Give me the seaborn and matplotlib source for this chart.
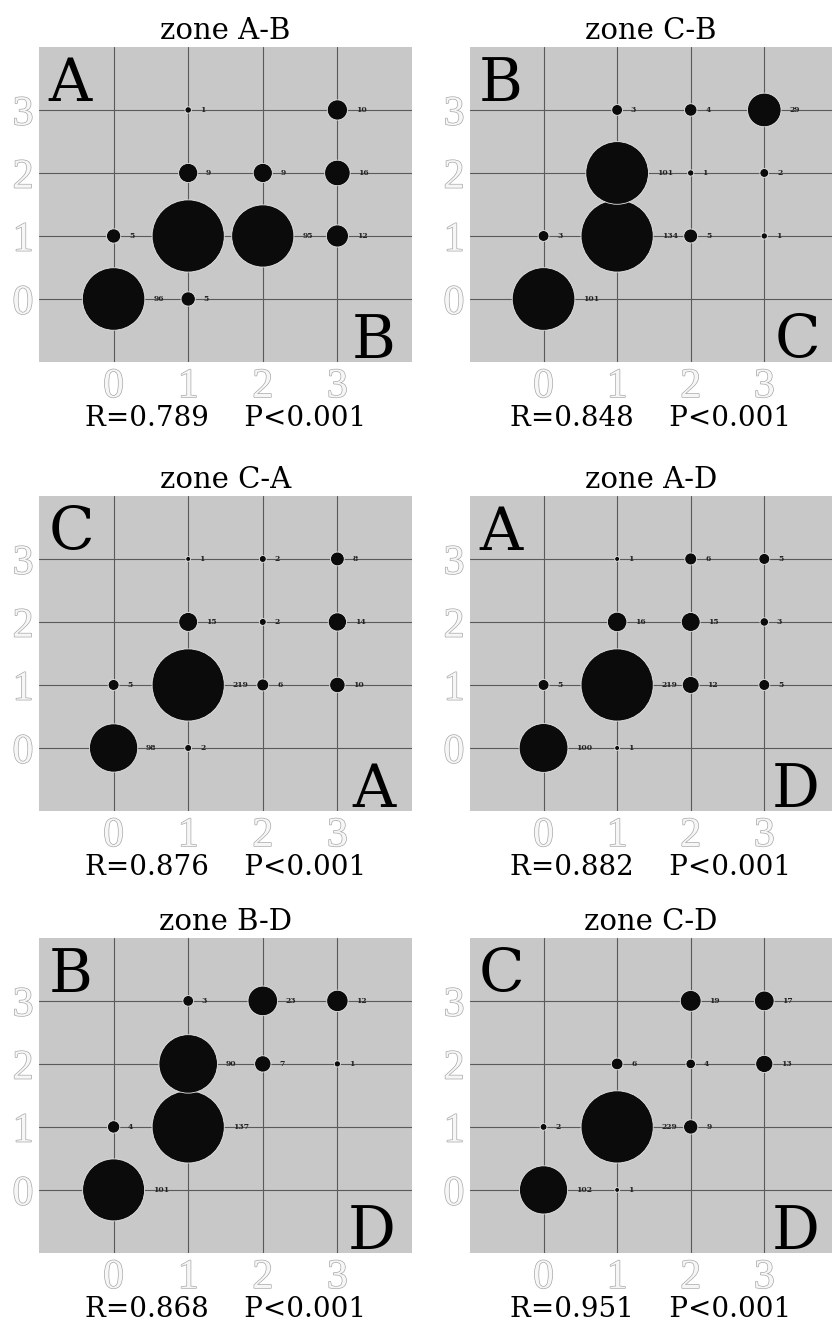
import numpy as np
import pandas as pd
import matplotlib
matplotlib.use('Agg')
import matplotlib.pyplot as plt
import matplotlib.patheffects as pe
import seaborn as sns

#### counts, rows = y (0..3), columns = x (0..3), 0 = no circle
ab_counts = [[96, 5, 0, 0], [5, 128, 95, 12], [0, 9, 9, 16], [0, 1, 0, 10]]
cb_counts = [[101, 0, 0, 0], [3, 134, 5, 1], [0, 101, 1, 2], [0, 3, 4, 29]]
ca_counts = [[98, 2, 0, 0], [5, 219, 6, 10], [0, 15, 2, 14], [0, 1, 2, 8]]
ad_counts = [[100, 1, 0, 0], [5, 219, 12, 5], [0, 16, 15, 3], [0, 1, 6, 5]]
bd_counts = [[101, 0, 0, 0], [4, 137, 0, 0], [0, 90, 7, 1], [0, 3, 23, 12]]
cd_counts = [[102, 1, 0, 0], [2, 229, 9, 0], [0, 6, 4, 13], [0, 0, 19, 17]]

titles = ['zone A-B', 'zone C-B', 'zone C-A', 'zone A-D', 'zone B-D', 'zone C-D']
top_letters = ['A', 'B', 'C', 'A', 'B', 'C']
bottom_letters = ['B', 'C', 'A', 'D', 'D', 'D']
r_values = ['0.789', '0.848', '0.876', '0.882', '0.868', '0.951']
p_values = ['<0.001', '<0.001', '<0.001', '<0.001', '<0.001', '<0.001']
tick_labels = ['0', '1', '2', '3']

panels = [ab_counts, cb_counts, ca_counts, ad_counts, bd_counts, cd_counts]

sns.set_style('white')
plt.rcParams['font.family'] = ['DejaVu Serif']
plt.rcParams['text.color'] = 'black'

fig = plt.figure(figsize=(8.37, 13.26), dpi=100)

# axes layout (figure fractions)
lefts = [0.0466, 0.5615]
widths = [0.4456, 0.4325]
bottoms = [0.727, 0.3884, 0.0551]
height = 0.2376
MAX_S = 2700  # marker area (pt^2) of the biggest cell in each panel

outline = [pe.withStroke(linewidth=1.0, foreground='#a8a8a8')]

for i, counts in enumerate(panels):
    row, col = divmod(i, 2)
    ax = fig.add_axes([lefts[col], bottoms[row], widths[col], height])
    ax.set_facecolor('#c8c8c8')

    counts = np.array(counts)
    yy, xx = np.nonzero(counts)
    df = pd.DataFrame({'x': xx, 'y': yy, 'n': counts[yy, xx]})
    vmax = df['n'].max()

    # circle area proportional to count
    sns.scatterplot(data=df, x='x', y='y', size='n', sizes=(0, MAX_S),
                    size_norm=(0, vmax), color='#0b0b0b', edgecolor='#e6e6e6',
                    linewidth=0.6, legend=False, ax=ax, zorder=3)

    # count labels right of each circle (below the circles, so some get hidden)
    for x, y, n in df.itertuples(index=False):
        r = np.sqrt(MAX_S * n / vmax) / 2
        ax.annotate(str(n), (x, y), xytext=(r + 6, 0), textcoords='offset points',
                    ha='left', va='center', fontsize=5.5, fontweight='bold',
                    color='#222222', zorder=2)

    ax.set_xlim(-1, 4 if col == 0 else 3.92)
    ax.set_ylim(-1, 4)
    ax.set(xlabel='', ylabel='')
    ax.set_xticks([0, 1, 2, 3], labels=tick_labels, fontfamily='Liberation Serif',
                  fontsize=30, color='#f6f6f6', path_effects=outline)
    ax.set_yticks([0, 1, 2, 3], labels=tick_labels, fontfamily='Liberation Serif',
                  fontsize=30, color='#f6f6f6', path_effects=outline)
    ax.tick_params(length=0, pad=4)
    ax.grid(True, color='#5a5a5a', lw=0.8)
    ax.set_axisbelow(True)
    for s in ax.spines.values():
        s.set_visible(False)

    ax.text(0.025, 0.975, top_letters[i], transform=ax.transAxes, ha='left',
            va='top', fontsize=43, color='black', zorder=4)
    ax.text(0.955 if col == 0 else 0.967, 0.013, bottom_letters[i],
            transform=ax.transAxes, ha='right', va='baseline', fontsize=43,
            color='black', zorder=4)

    ax.set_title(titles[i], fontsize=21, pad=6, color='black')
    ax.text(0.5, -0.18, 'R=' + r_values[i] + '    P' + p_values[i],
            transform=ax.transAxes, ha='center', va='center', fontsize=20,
            color='black')

fig.savefig('out.png', dpi=100)
